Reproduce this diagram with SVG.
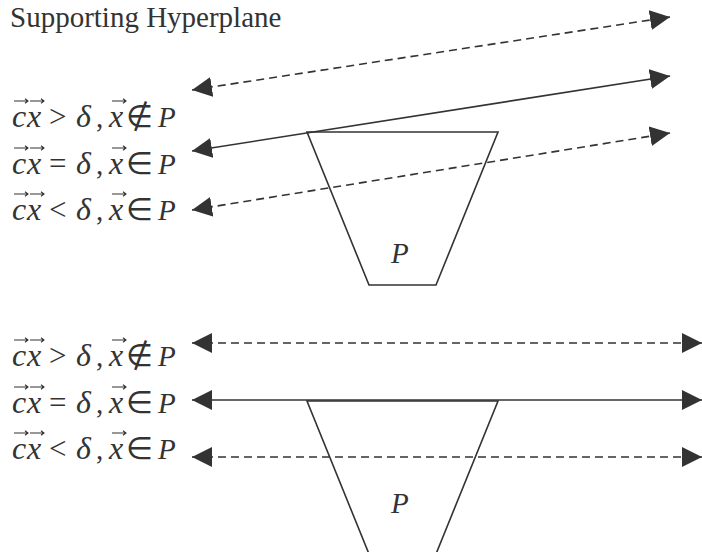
<svg xmlns="http://www.w3.org/2000/svg" width="702" height="552" viewBox="0 0 702 552">
<style>
text{font-family:"Liberation Serif","Times New Roman",serif;fill:#333;}
.t{font-size:29px;}
.l{font-size:29px;}
.i{font-style:italic;}
.b{font-size:32px;}
.o{font-size:31px;}
.ln{stroke:#333;stroke-width:1.6;fill:none;marker-start:url(#ah);marker-end:url(#ah);}
.d{stroke-dasharray:8 5;}
.poly{stroke:#333;stroke-width:1.6;fill:none;}
.v{stroke:#333;stroke-width:1.1;fill:none;}
</style>
<defs>
<marker id="ah" viewBox="0 0 20 20" refX="20" refY="10" markerWidth="20" markerHeight="20" markerUnits="userSpaceOnUse" orient="auto-start-reverse">
<path d="M0,0 L20,10 L0,20 z" fill="#333"/>
</marker>
<path id="vec" d="M0,0 H14 M11,-2.3 L14,0 L11,2.3" class="v"/>
</defs>
<g id="title"><text class="t" x="10" y="27">Supporting Hyperplane</text></g>
<g id="connectors">
<path class="ln d" d="M192,90 L670,17"/>
<path class="ln" d="M192,151 L670,76"/>
<path class="ln d" d="M192,210 L670,133"/>
<path class="ln d" d="M192,343 L702,343"/>
<path class="ln" d="M192,400 L702,400"/>
<path class="ln d" d="M192,457 L702,457"/>
</g>
<g id="polytope-top">
<path class="poly" d="M307,132 L498,132 L436,285 L369,285 Z"/>
<text class="l i" x="391" y="263">P</text>
</g>
<g id="polytope-bottom">
<path class="poly" d="M307,401 L498,401 L436,554 L369,554 Z"/>
<text class="l i" x="391" y="513">P</text>
</g>
<g id="label-t1" transform="translate(0,127)">
<text class="l"><tspan class="i b" x="12">c</tspan><tspan class="i b" x="27">x</tspan><tspan class="o" x="49">&gt;</tspan><tspan class="i b" x="76">δ</tspan><tspan x="96">,</tspan><tspan class="i b" x="109">x</tspan><tspan class="o" x="126">∉</tspan><tspan class="i" x="158">P</tspan></text>
<use href="#vec" x="14" y="-26"/><use href="#vec" x="30" y="-26"/><use href="#vec" x="112" y="-26"/>
</g>
<g id="label-t2" transform="translate(0,174)">
<text class="l"><tspan class="i b" x="12">c</tspan><tspan class="i b" x="27">x</tspan><tspan class="o" x="49">=</tspan><tspan class="i b" x="76">δ</tspan><tspan x="96">,</tspan><tspan class="i b" x="109">x</tspan><tspan class="o" x="126">∈</tspan><tspan class="i" x="158">P</tspan></text>
<use href="#vec" x="14" y="-26"/><use href="#vec" x="30" y="-26"/><use href="#vec" x="112" y="-26"/>
</g>
<g id="label-t3" transform="translate(0,220)">
<text class="l"><tspan class="i b" x="12">c</tspan><tspan class="i b" x="27">x</tspan><tspan class="o" x="49">&lt;</tspan><tspan class="i b" x="76">δ</tspan><tspan x="96">,</tspan><tspan class="i b" x="109">x</tspan><tspan class="o" x="126">∈</tspan><tspan class="i" x="158">P</tspan></text>
<use href="#vec" x="14" y="-26"/><use href="#vec" x="30" y="-26"/><use href="#vec" x="112" y="-26"/>
</g>
<g id="label-b1" transform="translate(0,366)">
<text class="l"><tspan class="i b" x="12">c</tspan><tspan class="i b" x="27">x</tspan><tspan class="o" x="49">&gt;</tspan><tspan class="i b" x="76">δ</tspan><tspan x="96">,</tspan><tspan class="i b" x="109">x</tspan><tspan class="o" x="126">∉</tspan><tspan class="i" x="158">P</tspan></text>
<use href="#vec" x="14" y="-26"/><use href="#vec" x="30" y="-26"/><use href="#vec" x="112" y="-26"/>
</g>
<g id="label-b2" transform="translate(0,413)">
<text class="l"><tspan class="i b" x="12">c</tspan><tspan class="i b" x="27">x</tspan><tspan class="o" x="49">=</tspan><tspan class="i b" x="76">δ</tspan><tspan x="96">,</tspan><tspan class="i b" x="109">x</tspan><tspan class="o" x="126">∈</tspan><tspan class="i" x="158">P</tspan></text>
<use href="#vec" x="14" y="-26"/><use href="#vec" x="30" y="-26"/><use href="#vec" x="112" y="-26"/>
</g>
<g id="label-b3" transform="translate(0,459)">
<text class="l"><tspan class="i b" x="12">c</tspan><tspan class="i b" x="27">x</tspan><tspan class="o" x="49">&lt;</tspan><tspan class="i b" x="76">δ</tspan><tspan x="96">,</tspan><tspan class="i b" x="109">x</tspan><tspan class="o" x="126">∈</tspan><tspan class="i" x="158">P</tspan></text>
<use href="#vec" x="14" y="-26"/><use href="#vec" x="30" y="-26"/><use href="#vec" x="112" y="-26"/>
</g>
</svg>
